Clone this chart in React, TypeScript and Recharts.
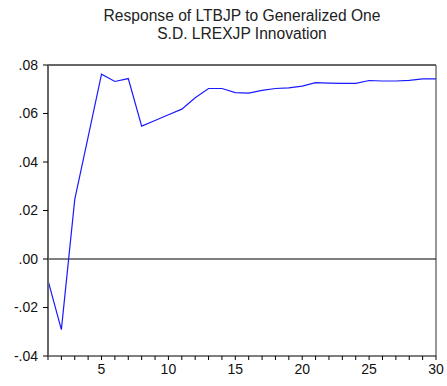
import { CartesianGrid, Line, LineChart, ReferenceLine, XAxis, YAxis } from "recharts";

// response periods and generalized impulse response values
const periods = [
  1, 2, 3, 4, 5, 6, 7, 8, 9, 10, 11, 12, 13, 14, 15,
  16, 17, 18, 19, 20, 21, 22, 23, 24, 25, 26, 27, 28, 29, 30,
];
const response = [
  -0.0088, -0.0291, 0.0246, 0.0504, 0.0762, 0.0732, 0.0744, 0.0548, 0.0571, 0.0595,
  0.0618, 0.0665, 0.0703, 0.0703, 0.0686, 0.0684, 0.0695, 0.0703, 0.0706, 0.0713,
  0.0727, 0.0725, 0.0724, 0.0724, 0.0736, 0.0734, 0.0734, 0.0737, 0.0743, 0.0743,
];
const yTicks = [-0.04, -0.02, 0, 0.02, 0.04, 0.06, 0.08];
const xLabelled = [5, 10, 15, 20, 25, 30];

const data = periods.map((p, i) => ({ period: p, value: response[i] }));

const fmtY = (v: number) => v.toFixed(2).replace("0.", ".");
const fmtX = (v: number) => (xLabelled.includes(v) ? String(v) : "");

const font = "'Liberation Sans', Arial, sans-serif";

export default function App() {
  return (
    <div style={{ position: "absolute", left: 0, top: 0, width: 447, height: 386, background: "#fff", fontFamily: font }}>
      <div
        style={{
          position: "absolute",
          left: 40,
          width: 404,
          top: 7,
          textAlign: "center",
          fontSize: 15.6,
          lineHeight: "18px",
          color: "#222",
        }}
      >
        Response of LTBJP to Generalized One
        <br />
        S.D. LREXJP Innovation
      </div>
      <LineChart
        width={447}
        height={386}
        data={data}
        margin={{ top: 65, right: 11, bottom: 0, left: 0 }}
      >
        <CartesianGrid horizontal={false} vertical={false} />
        <XAxis
          dataKey="period"
          type="number"
          domain={[1, 30]}
          ticks={periods}
          interval={0}
          tickFormatter={fmtX}
          height={30}
          tickSize={4}
          tickMargin={4}
          axisLine={{ stroke: "#000", strokeWidth: 1 }}
          tickLine={{ stroke: "#000" }}
          tick={{ fill: "#111", fontSize: 14, fontFamily: font }}
        />
        <YAxis
          type="number"
          domain={[-0.04, 0.08]}
          ticks={yTicks}
          interval={0}
          tickFormatter={fmtY}
          width={48}
          tickSize={5}
          tickMargin={5}
          axisLine={{ stroke: "#666", strokeWidth: 2 }}
          tickLine={{ stroke: "#000" }}
          tick={{ fill: "#111", fontSize: 14, fontFamily: font }}
        />
        <ReferenceLine y={0.08} stroke="#666" strokeWidth={2} />
        <ReferenceLine x={30} stroke="#333" strokeWidth={1} />
        <ReferenceLine y={0} stroke="#000" strokeWidth={1} />
        <Line
          dataKey="value"
          stroke="#1a1aff"
          strokeWidth={1.2}
          dot={false}
          isAnimationActive={false}
        />
      </LineChart>
    </div>
  );
}
